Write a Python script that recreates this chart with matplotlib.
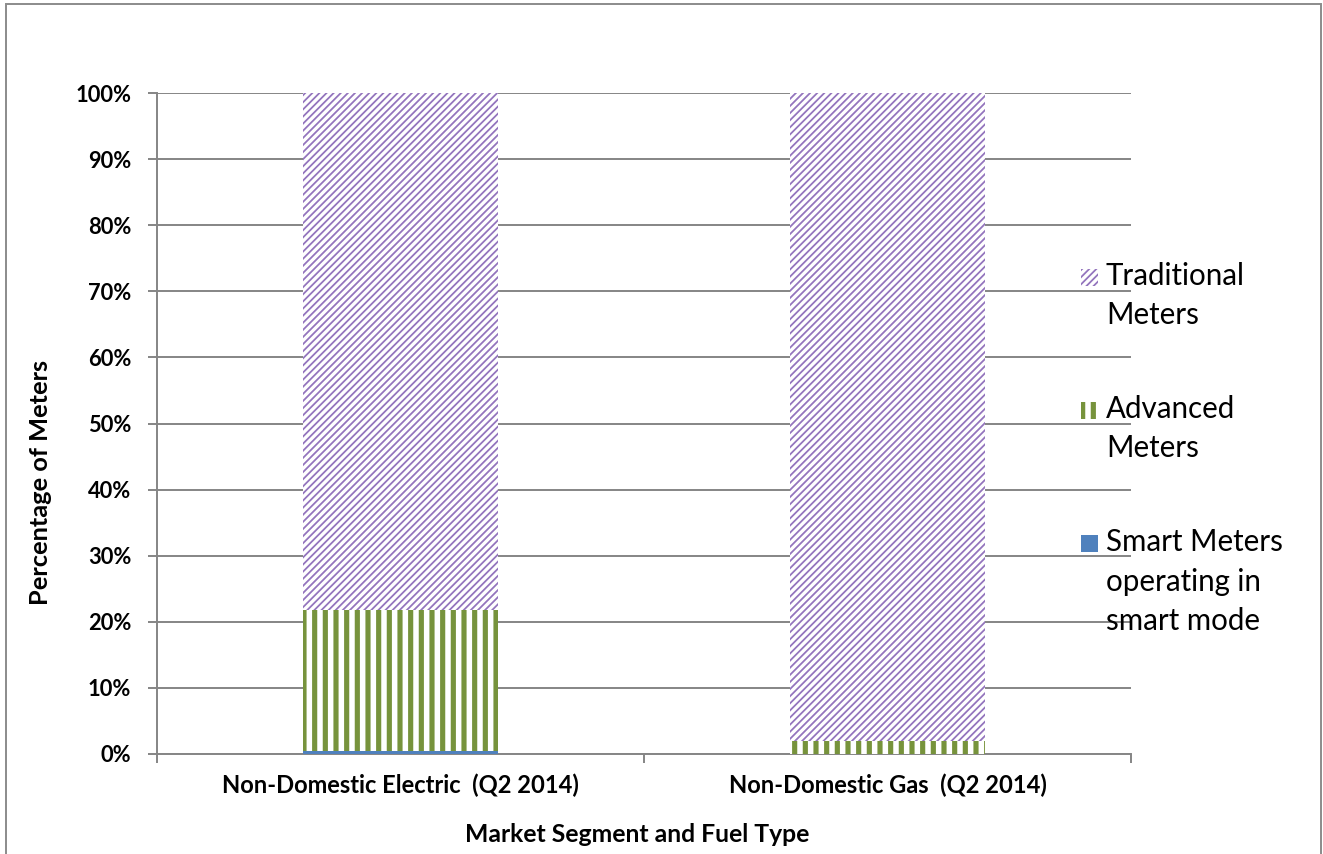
import matplotlib
matplotlib.use("Agg")
import matplotlib.pyplot as plt
from matplotlib.patches import Rectangle
import numpy as np

# ---- data ----
categories = ["Non-Domestic Electric  (Q2 2014)", "Non-Domestic Gas  (Q2 2014)"]
series_names = ["Smart Meters\noperating in\nsmart mode", "Advanced\nMeters", "Traditional\nMeters"]
smart = [0.4, 0.0]
advanced = [21.4, 2.0]
traditional = [78.2, 98.0]
y_ticks = [0, 10, 20, 30, 40, 50, 60, 70, 80, 90, 100]
x_title = "Market Segment and Fuel Type"
y_title = "Percentage of Meters"

# ---- style ----
DPI = 128
W, H = 1323, 854
plt.rcParams['font.family'] = ['Lato', 'DejaVu Sans']
colors = ["#4F81BD", "#77933C", "#9374bd"]
hatches = [None, "||", "//////"]
hlw = [1.0, 2.9, 1.0]

fig = plt.figure(figsize=(W / DPI, H / DPI), dpi=DPI)
ax = fig.add_axes([157 / W, 1 - 754 / H, (1131 - 157) / W, (754 - 93) / H])

x = np.arange(len(categories)) + 0.5
series = [np.array(smart), np.array(advanced), np.array(traditional)]
bottom = np.zeros(len(categories))
for vals, c, h, lw in zip(series, colors, hatches, hlw):
    plt.rcParams['hatch.linewidth'] = lw
    if h is None:
        bars = ax.bar(x, vals / 100, 0.4, bottom=bottom, color=c, linewidth=0, zorder=3)
    else:
        bars = ax.bar(x, vals / 100, 0.4, bottom=bottom, facecolor="white",
                      edgecolor=c, hatch=h, linewidth=0, zorder=3)
    for b in bars:
        if hasattr(b, "set_hatch_linewidth"):
            b.set_hatch_linewidth(lw)
    bottom = bottom + vals / 100

ax.set_xlim(0, 2)
ax.set_ylim(0, 1)
ax.set_yticks(np.array(y_ticks) / 100)
ax.set_yticklabels([f"{v}%" for v in y_ticks], fontsize=12.3, fontweight="bold")
ax.set_xticks([0, 1, 2])
ax.set_xticklabels([])
ax.set_xticks(x, minor=True)
ax.set_xticklabels(categories, minor=True, fontsize=13.4, fontweight="bold")
ax.tick_params(axis="x", which="minor", length=0, pad=11)
ax.tick_params(axis="x", which="major", length=5, width=1.1, color="#868686", direction="out")
ax.tick_params(axis="y", length=5, width=1.1, color="#868686", pad=9.5, direction="out")

ax.grid(axis="y", color="#868686", linewidth=1.1, zorder=0)
ax.set_axisbelow(True)
for s in ["top", "right"]:
    ax.spines[s].set_visible(False)
for s in ["left", "bottom"]:
    ax.spines[s].set_color("#868686")
    ax.spines[s].set_linewidth(1.1)

ax.set_xlabel(x_title, fontsize=13.9, fontweight="bold")
ax.xaxis.set_label_coords((637 - 157) / 974, -(835 - 754) / 661)
ax.xaxis.label.set_va("center")
ax.set_ylabel(y_title, fontsize=14.3, fontweight="bold")
ax.yaxis.set_label_coords((41 - 157) / 974, (754 - 482) / 661)
ax.yaxis.label.set_va("center")

# ---- legend (Traditional at top) ----
leg_tops = [262, 395, 528]
for i, idx in enumerate([2, 1, 0]):
    top = leg_tops[i]
    plt.rcParams['hatch.linewidth'] = hlw[idx]
    if hatches[idx] is None:
        r = Rectangle((1081 / W, 1 - (top + 24) / H), 17 / W, 17 / H, transform=fig.transFigure,
                      facecolor=colors[idx], linewidth=0)
    else:
        r = Rectangle((1081 / W, 1 - (top + 24) / H), 17 / W, 17 / H, transform=fig.transFigure,
                      facecolor="white", edgecolor=colors[idx], hatch=hatches[idx], linewidth=0)
        if hasattr(r, "set_hatch_linewidth"):
            r.set_hatch_linewidth(hlw[idx])
    fig.add_artist(r)
    fig.text(1106 / W, 1 - top / H, series_names[idx], fontsize=16.6, va="top", ha="left",
             linespacing=1.5)

# ---- outer border ----
fig.add_artist(Rectangle((6 / W, -0.01), (1321 - 6) / W, 1.01 - 4 / H, transform=fig.transFigure,
                         fill=False, edgecolor="#8c8c8c", linewidth=1.1))

fig.savefig("out.png", dpi=DPI)
